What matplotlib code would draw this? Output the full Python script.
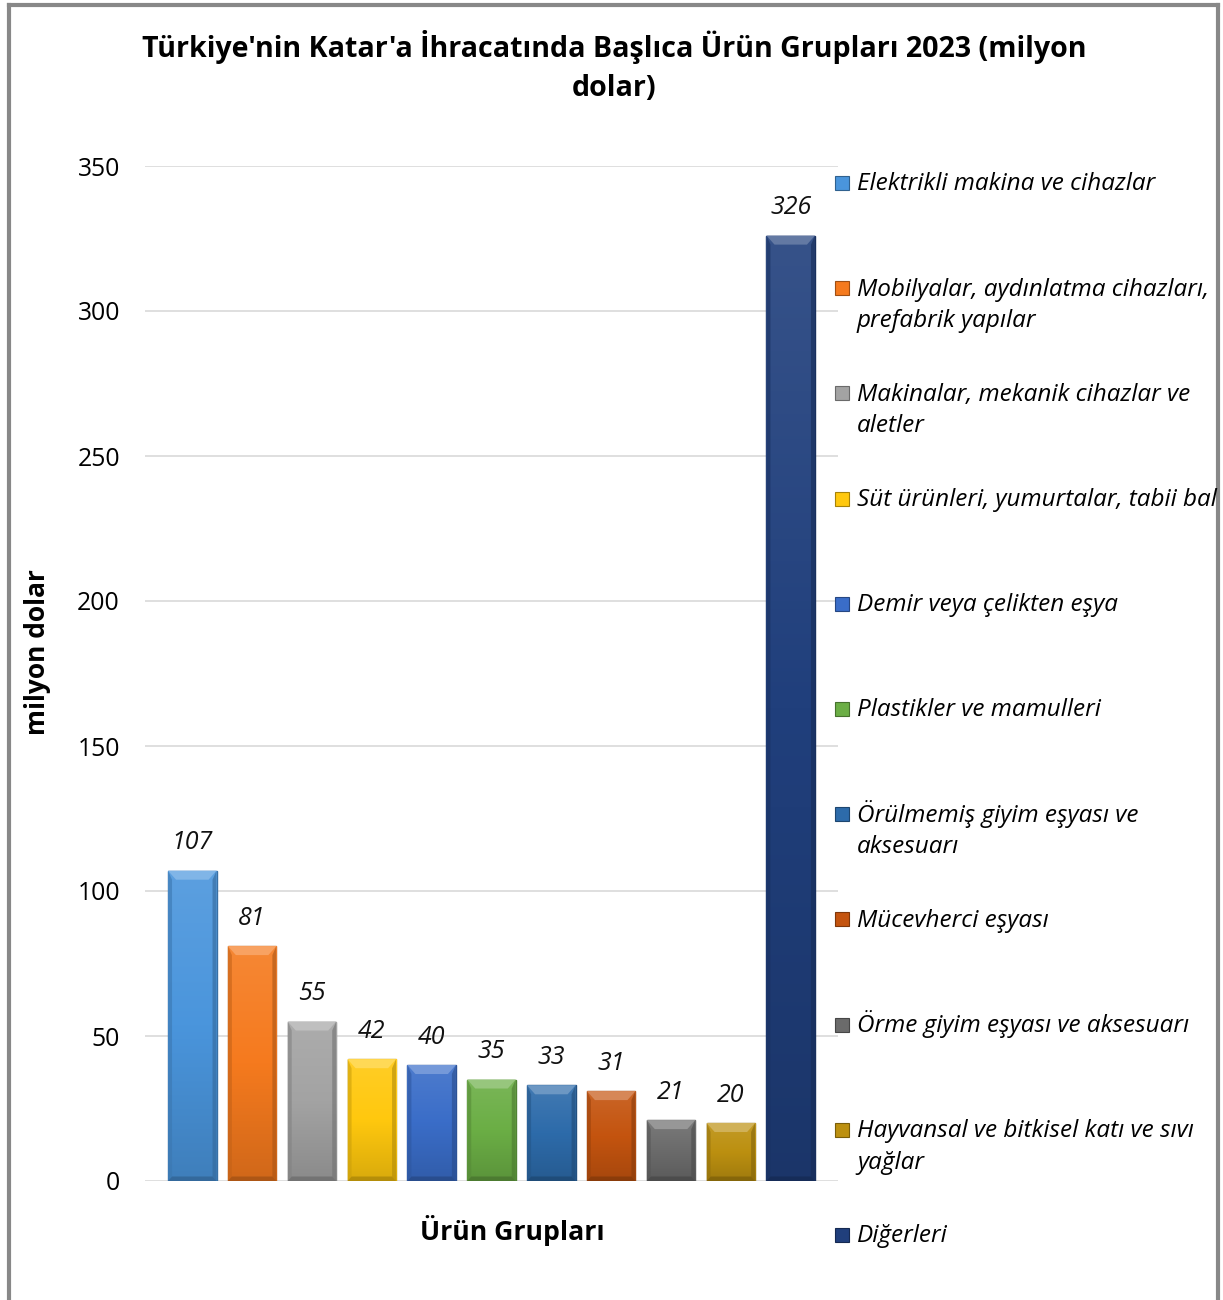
import numpy as np
import matplotlib
matplotlib.use("Agg")
import matplotlib.pyplot as plt
from matplotlib.colors import LinearSegmentedColormap, to_rgb
from matplotlib.patches import Polygon, Rectangle
from matplotlib.lines import Line2D

plt.rcParams['font.family'] = ['Open Sans', 'DejaVu Sans']

# ---- data ----
categories = [
    "Elektrikli makina ve cihazlar",
    "Mobilyalar, aydınlatma cihazları,\nprefabrik yapılar",
    "Makinalar, mekanik cihazlar ve\naletler",
    "Süt ürünleri, yumurtalar, tabii bal",
    "Demir veya çelikten eşya",
    "Plastikler ve mamulleri",
    "Örülmemiş giyim eşyası ve\naksesuarı",
    "Mücevherci eşyası",
    "Örme giyim eşyası ve aksesuarı",
    "Hayvansal ve bitkisel katı ve sıvı\nyağlar",
    "Diğerleri",
]
values = [107, 81, 55, 42, 40, 35, 33, 31, 21, 20, 326]
colors = ['#4A95DC', '#F57A1E', '#A3A3A3', '#FFC80E', '#3A6DC8', '#6BAE45',
          '#2D6BAA', '#C4540F', '#6B6B6B', '#BC9010', '#203F7C']
yticks = [0, 50, 100, 150, 200, 250, 300, 350]

title = "Türkiye'nin Katar'a İhracatında Başlıca Ürün Grupları 2023 (milyon\ndolar)"
ylabel = "milyon dolar"
xlabel = "Ürün Grupları"

W, H = 1223, 1300
fig = plt.figure(figsize=(W / 100, H / 100), dpi=100)
ax = fig.add_axes([145 / W, 1 - 1181 / H, (838 - 145) / W, (1181 - 166) / H])


def shade(c, f):
    r = np.array(to_rgb(c))
    if f >= 0:
        return tuple(r + (1 - r) * f)
    return tuple(r * (1 + f))


x = np.arange(len(values))
bars = ax.bar(x, values, width=0.81, color=colors, zorder=2,
              edgecolor=[shade(c, -0.25) for c in colors], linewidth=1.0)

ax.set_xlim(-0.79, len(values) - 1 + 0.79)
ax.set_ylim(0, 350)

# pixel -> data conversion
px_x = (ax.get_xlim()[1] - ax.get_xlim()[0]) / (838 - 145)
px_y = 350 / (1181 - 166)

grad = np.linspace(0, 1, 256).reshape(-1, 1)
for rect, c in zip(bars, colors):
    x0, y0 = rect.get_x(), rect.get_y()
    w, h = rect.get_width(), rect.get_height()
    cmap = LinearSegmentedColormap.from_list('g', [shade(c, -0.15), c, shade(c, 0.1)])
    im = ax.imshow(grad, extent=[x0, x0 + w, y0, y0 + h], origin='lower',
                   aspect='auto', cmap=cmap, zorder=2.1, interpolation='bilinear')
    im.set_clip_path(rect)
    dx = 8 * px_x
    dy = 9 * px_y
    top = Polygon([(x0, y0 + h), (x0 + w, y0 + h), (x0 + w - dx, y0 + h - dy),
                   (x0 + dx, y0 + h - dy)], closed=True,
                  facecolor=shade(c, 0.3), edgecolor='none', zorder=2.2)
    left = Polygon([(x0, y0), (x0, y0 + h), (x0 + dx * 0.5, y0 + h - dy),
                    (x0 + dx * 0.5, y0 + dy * 0.5)], closed=True,
                   facecolor=shade(c, -0.2), edgecolor='none', zorder=2.2, alpha=0.6)
    right = Polygon([(x0 + w, y0), (x0 + w, y0 + h), (x0 + w - dx * 0.5, y0 + h - dy),
                     (x0 + w - dx * 0.5, y0 + dy * 0.5)], closed=True,
                    facecolor=shade(c, -0.3), edgecolor='none', zorder=2.2, alpha=0.6)
    bottom = Polygon([(x0, y0), (x0 + w, y0), (x0 + w - dx * 0.5, y0 + dy * 0.5),
                      (x0 + dx * 0.5, y0 + dy * 0.5)], closed=True,
                     facecolor=shade(c, -0.35), edgecolor='none', zorder=2.2, alpha=0.7)
    for p in (top, left, right, bottom):
        ax.add_patch(p)

ax.set_xlim(-0.79, len(values) - 1 + 0.79)
ax.set_ylim(0, 350)

for xi, v in zip(x, values):
    ax.annotate(f"{v}", (xi, v), xytext=(0, 20), textcoords='offset points',
                ha='center', va='center', fontsize=18, style='italic', color='#111111')

ax.set_yticks(yticks)
ax.set_yticklabels([str(t) for t in yticks], fontsize=17.8)
ax.tick_params(axis='y', length=0, pad=18)
ax.set_xticks([])
ax.grid(axis='y', color='#D9D9D9', linewidth=1.2, zorder=0)
ax.set_axisbelow(True)
for s in ax.spines.values():
    s.set_visible(False)

fig.text(614 / W, 1 - 47 / H, title.split('\n')[0], ha='center', va='center',
         fontsize=20.6, fontweight='bold')
fig.text(614 / W, 1 - 88 / H, title.split('\n')[1], ha='center', va='center',
         fontsize=20.6, fontweight='bold')
fig.text(38 / W, 1 - 652 / H, ylabel, rotation=90, ha='center', va='center',
         fontsize=19, fontweight='bold')
fig.text(512 / W, 1 - 1230 / H, xlabel, ha='center', va='center',
         fontsize=19.2, fontweight='bold')

# legend
for i, (lab, c) in enumerate(zip(categories, colors)):
    yc = 183 + i * 105.2
    fig.patches.append(Rectangle((835 / W, 1 - (yc + 7) / H), 14 / W, 14 / H,
                                 transform=fig.transFigure, facecolor=c,
                                 edgecolor=shade(c, -0.35), linewidth=0.8))
    for k, line in enumerate(lab.split('\n')):
        fig.text(857 / W, 1 - (yc + 7.5 + k * 31.5) / H, line, ha='left',
                 va='baseline', fontsize=17.5, style='italic', color='black')

# border
bc = '#888888'
fig.add_artist(Line2D([9 / W, 9 / W], [0, 1 - 5 / H], transform=fig.transFigure, color=bc, lw=3))
fig.add_artist(Line2D([9 / W, 1218 / W], [1 - 5 / H, 1 - 5 / H], transform=fig.transFigure, color=bc, lw=3))
fig.add_artist(Line2D([1218 / W, 1218 / W], [0, 1 - 5 / H], transform=fig.transFigure, color=bc, lw=3))

fig.savefig('out.png', dpi=100, facecolor='white')
